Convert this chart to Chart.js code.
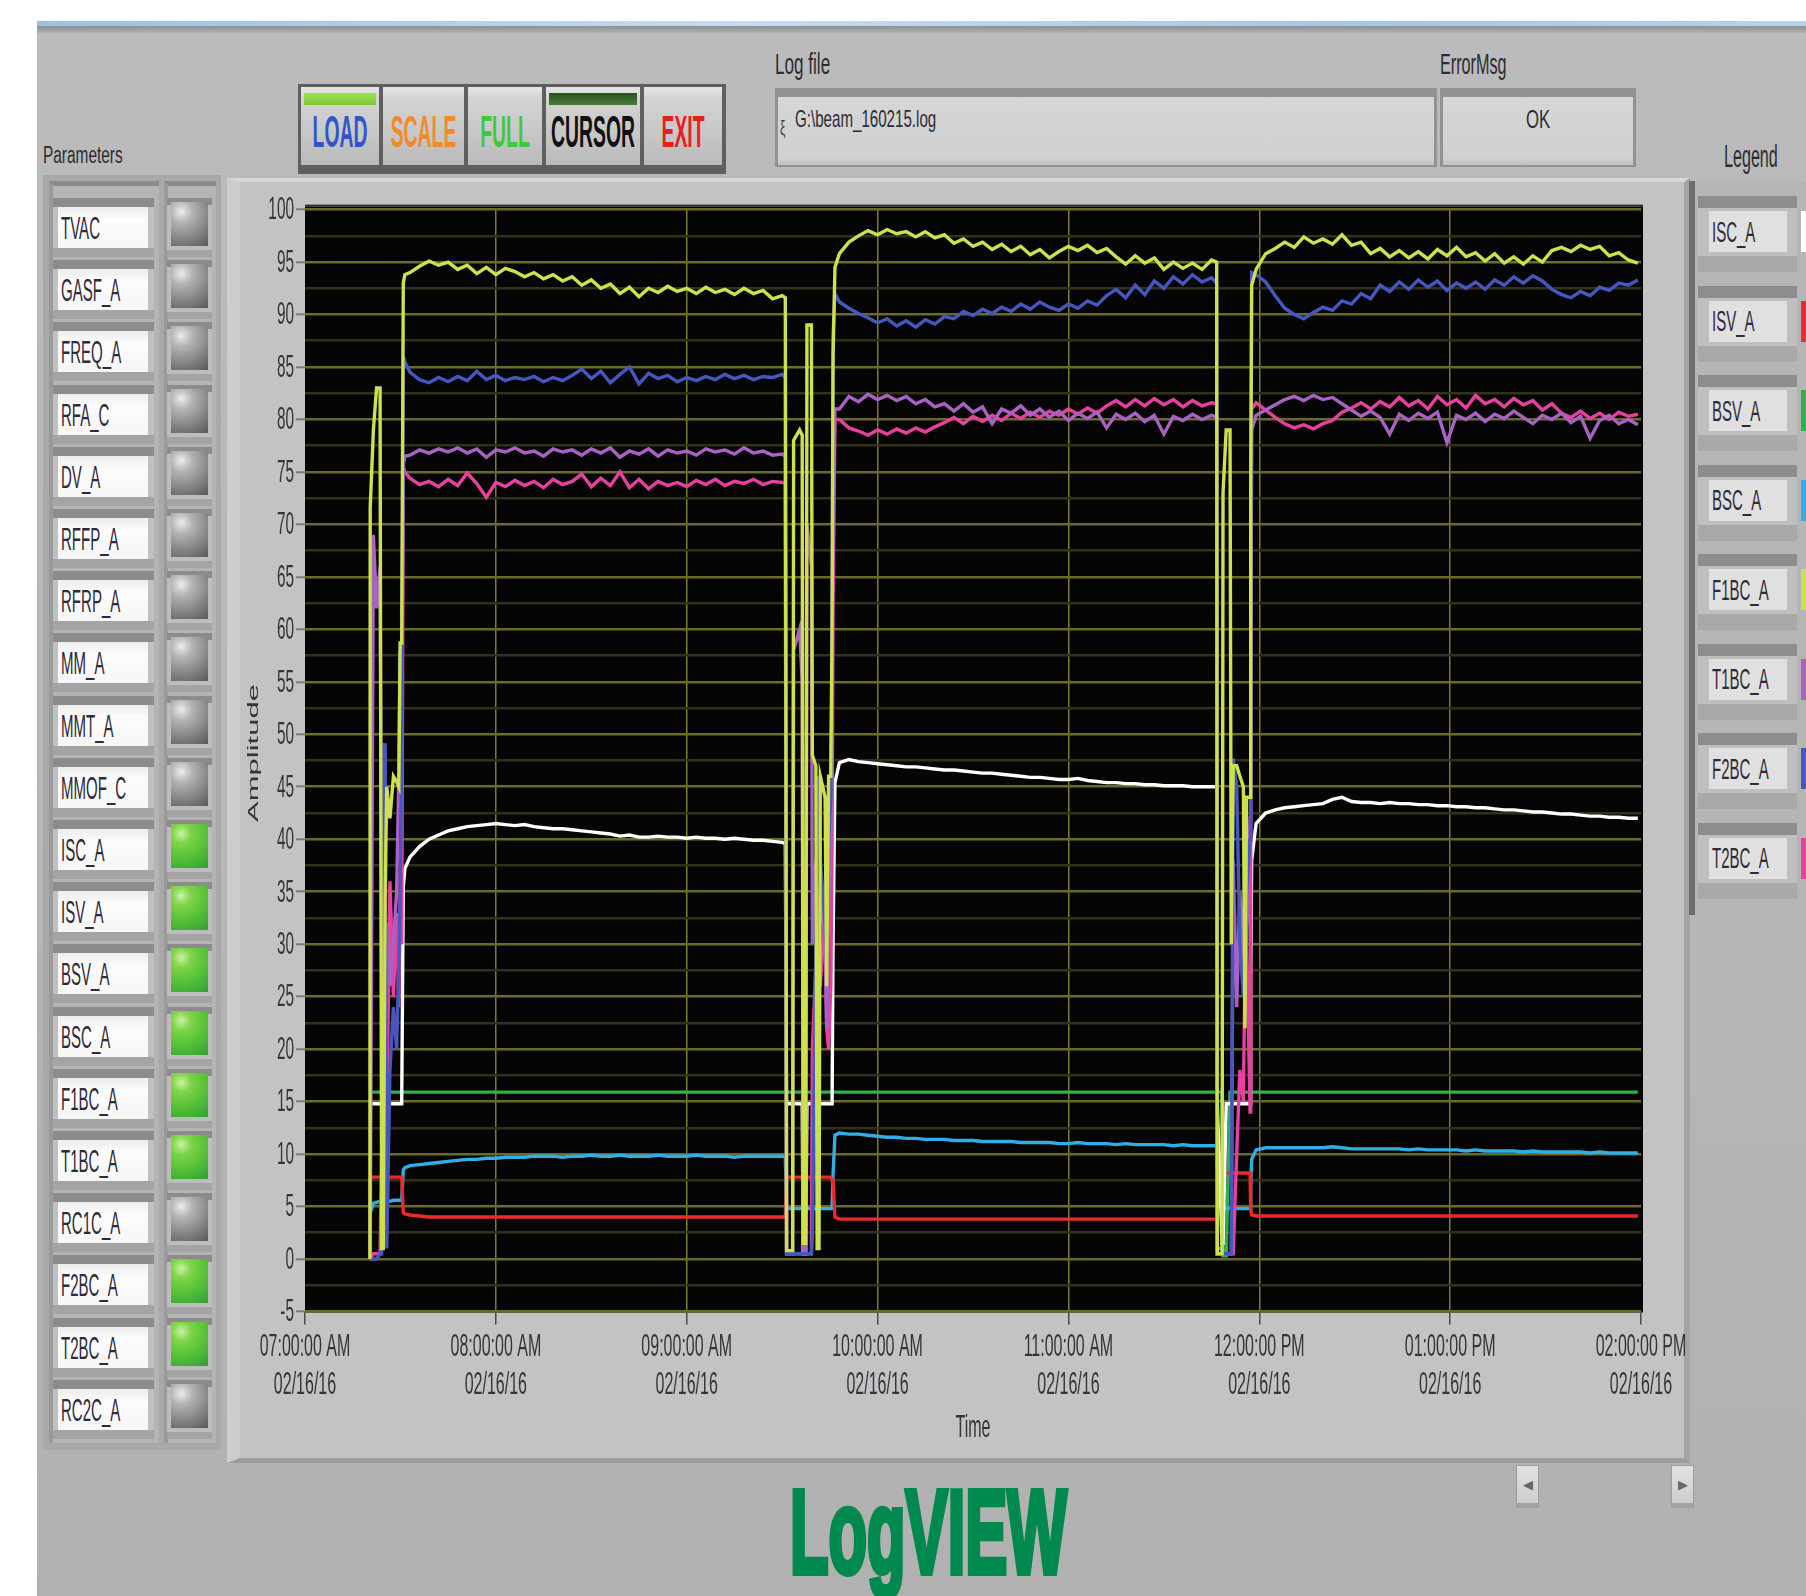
<!DOCTYPE html>
<html>
<head>
<meta charset="utf-8">
<title>LogVIEW</title>
<script src="https://cdn.jsdelivr.net/npm/chart.js@4.4.1/dist/chart.umd.min.js"></script>
<style>
  html, body { margin: 0; padding: 0; background: #fff; }
  body { position: relative; width: 1806px; height: 1596px; overflow: hidden; font-family: "Liberation Sans", Arial, sans-serif; }
  .box { position: absolute; box-sizing: border-box; }
  .t { position: absolute; white-space: nowrap; line-height: 1; transform-origin: 0 0; color: #2c2c34; }
  .btn { position: absolute; top: 87px; height: 78px; background: linear-gradient(#e6e6e6, #d4d4d4 14%, #c8c8c8 55%, #bababa); }
  .btn span { position: absolute; left: -80px; right: -80px; top: 22px; text-align: center; white-space: nowrap; font-weight: bold; font-size: 45px; line-height: 1; transform: scaleX(0.43); }
  .strip { position: absolute; left: 3px; right: 3px; top: 6px; height: 12px; }
  .scroll { position: absolute; top: 1465px; width: 23px; height: 43px; box-sizing: border-box; border: 1px solid #9c9c9c; border-bottom: 5px solid #a2a2a2; background: linear-gradient(#e2e2e2, #cdcdcd); color: #666; font-size: 13px; text-align: center; line-height: 37px; }
</style>
</head>
<body>
<div class="box" style="left:37px;top:21px;width:1769px;height:1575px;background:linear-gradient(#bbbbbb,#b6b6b6 55%,#b1b1b1);"></div>
<div class="box" style="left:37px;top:21px;width:1769px;height:5px;background:linear-gradient(90deg,#9dbfe3,#c7dbef 40%,#a7c5e6 75%,#b9d2ec);"></div>
<div class="box" style="left:37px;top:26px;width:1769px;height:7px;background:linear-gradient(#8f8f8f,#b0b0b0);"></div>

<div class="t" style="left:43px;top:144px;font-size:23px;transform:scaleX(0.67);">Parameters</div>
<div class="t" style="left:775px;top:49px;font-size:30px;transform:scaleX(0.57);">Log file</div>
<div class="t" style="left:1440px;top:49px;font-size:30px;transform:scaleX(0.54);">ErrorMsg</div>
<div class="t" style="left:1724px;top:141px;font-size:31px;transform:scaleX(0.52);">Legend</div>

<!-- button bar -->
<div class="box" style="left:298px;top:84px;width:428px;height:90px;background:#5f5f5f;"></div>
<div class="btn" style="left:301px;width:78px;"><div class="strip" style="background:linear-gradient(#9ee04a,#7cc83a);"></div><span style="color:#2f56c8;">LOAD</span></div>
<div class="btn" style="left:383px;width:81px;"><span style="color:#f28a2c;">SCALE</span></div>
<div class="btn" style="left:468px;width:74px;"><span style="color:#3ec83e;">FULL</span></div>
<div class="btn" style="left:546px;width:94px;"><div class="strip" style="background:linear-gradient(#2a5220,#4c7a3a);"></div><span style="color:#111;">CURSOR</span></div>
<div class="btn" style="left:644px;width:78px;"><span style="color:#ea1e1e;">EXIT</span></div>

<!-- log file / error boxes -->
<div class="box" style="left:775px;top:88px;width:662px;height:79px;background:#929292;"></div>
<div class="box" style="left:778px;top:97px;width:656px;height:68px;background:linear-gradient(#d6d6d6,#d0d0d0 90%,#c2c2c2);"></div>
<div class="t" style="left:780px;top:118px;font-size:20px;transform:scaleX(0.6);color:#444;">ξ</div>
<div class="t" style="left:795px;top:107px;font-size:24px;transform:scaleX(0.63);">G:\beam_160215.log</div>
<div class="box" style="left:1440px;top:88px;width:196px;height:79px;background:#929292;"></div>
<div class="box" style="left:1443px;top:97px;width:190px;height:68px;background:linear-gradient(#d6d6d6,#d0d0d0 90%,#c2c2c2);"></div>
<div class="t" style="left:1443px;width:190px;top:107px;font-size:25px;text-align:center;"><span style="display:inline-block;transform:scaleX(0.67);">OK</span></div>

<!-- parameter panel -->
<div class="box" style="left:43px;top:175px;width:178px;height:1275px;background:#a9a9a9;"></div>
<div class="box" style="left:49px;top:181px;width:110px;height:1262px;background:#b4b4b4;border-top:5px solid #8b8b8b;border-left:4px solid #9a9a9a;"></div>
<div class="box" style="left:164px;top:181px;width:52px;height:1262px;background:#b4b4b4;border-top:5px solid #8b8b8b;border-left:4px solid #9a9a9a;"></div>
<div id="params"></div>

<!-- graph panel -->
<div class="box" style="left:227px;top:178px;width:1463px;height:1285px;background:#c3c3c3;border-top:4px solid #d8d8d8;border-left:13px solid #cdcdcd;border-right:6px solid #a4a4a4;border-bottom:5px solid #9d9d9d;"></div>
<canvas id="plot" width="1468" height="1282" style="position:absolute;left:225px;top:178px;width:1468px;height:1282px;"></canvas>

<!-- legend panel -->
<div class="box" style="left:1689px;top:181px;width:117px;height:734px;background:#b5b5b5;border-left:6px solid #6d6d6d;"></div>
<div id="legend"></div>

<div class="scroll" style="left:1516px;">&#9664;</div>
<div class="scroll" style="left:1671px;">&#9654;</div>

<div class="t" style="left:790px;top:1472px;font-size:119px;font-weight:bold;color:#00894f;transform:scaleX(0.53);-webkit-text-stroke:6px #00894f;">LogVIEW</div>

<script>
// time axis in minutes after 07:00:00 AM
const minutes = [
  20.4, 20.5, 21.5, 22.5, 23.6, 24.1, 24.6, 25.2, 25.7, 26.7, 27.8, 28.8, 29.5, 29.9, 30.4, 30.9, 31.4,
  33, 36, 39, 42, 45, 48, 51, 54, 57, 60,
  63, 66, 69, 72, 75, 78, 81, 84, 87, 90,
  93, 96, 99, 102, 105, 108, 111, 114, 117, 120,
  123, 126, 129, 132, 135, 138, 141, 144, 147, 150,
  151.0, 151.4, 153.3, 153.6, 155.5, 156.3, 156.6, 157.4, 157.8, 159.2, 159.5, 160.6, 161.0, 161.6, 162.0, 163.5, 164.0, 164.6, 165.3, 165.7, 166.0, 166.6,
  168, 171, 174, 177, 180, 183, 186, 189, 192, 195,
  198, 201, 204, 207, 210, 213, 216, 219, 222, 225,
  228, 231, 234, 237, 240, 243, 246, 249, 252, 255,
  258, 261, 264, 267, 270, 273, 276, 279, 282, 285,
  286.6, 286.8, 288.3, 288.6, 289.6, 290.8, 291.2, 291.8, 292.9, 293.9, 295.0, 295.5, 296.0, 297.1, 297.3, 297.6,
  299, 302, 305, 308, 311, 314, 317, 320, 323, 326,
  329, 332, 335, 338, 341, 344, 347, 350, 353, 356,
  359, 362, 365, 368, 371, 374, 377, 380, 383, 386,
  389, 392, 395, 398, 401, 404, 407, 410, 413, 416,
  419
];

const f1bcA = [
  0, 71.6, 79, 83, 83, 1, 1, 35, 45, 42, 46, 45.5, 45, 58.7, 58.7, 93, 93.8,
  94.0, 94.6, 95.1, 94.7, 95.0, 94.3, 94.7, 93.9, 94.5, 93.8,
  94.4, 94.1, 93.6, 94.0, 93.4, 93.8, 93.2, 93.6, 92.8, 93.3,
  92.5, 92.9, 92.0, 92.6, 91.7, 92.5, 92.1, 92.7, 92.2, 92.5,
  92.0, 92.6, 92.1, 92.4, 91.9, 92.5, 92.0, 92.3, 91.5, 91.8,
  91.6, 0.8, 0.8, 78, 79, 78.5, 1.5, 1.5, 89, 89, 48, 47, 1.0, 1.0, 46, 44, 26, 46, 46, 60, 86, 94.5,
  95.8, 96.9, 97.5, 98.0, 97.6, 98.1, 97.7, 97.9, 97.4, 97.9,
  97.3, 97.6, 96.8, 97.2, 96.5, 96.9, 96.2, 96.7, 96.0, 96.5,
  95.7, 96.2, 95.4, 96.0, 96.5, 96.1, 96.6, 95.9, 96.3, 95.5,
  94.8, 95.6, 94.9, 95.4, 94.3, 95.0, 94.4, 94.9, 94.3, 95.2,
  95.0, 0.5, 0.5, 73, 79, 79, 30, 47, 47, 46, 45, 22, 44, 44, 73.7, 92.8,
  94.3, 95.8, 96.3, 96.9, 96.4, 97.4, 96.8, 97.2, 96.7, 97.6,
  96.6, 96.9, 95.8, 96.3, 95.5, 96.1, 95.4, 96.0, 95.3, 96.2,
  95.6, 96.4, 95.5, 95.9, 95.1, 95.8, 94.9, 95.5, 94.8, 95.6,
  95.0, 96.1, 96.4, 96.0, 96.6, 96.2, 96.5, 95.6, 95.9, 95.2,
  94.9
];

const f2bcA = [
  0, 0, 0, 0, 0.5, 0.5, 49, 49, 1, 18, 24, 20, 28, 34, 48, 86, 85.5,
  84.5, 83.8, 83.5, 84.0, 83.6, 84.1, 83.7, 84.6, 83.8, 84.2,
  83.7, 84.0, 83.8, 84.1, 83.6, 84.0, 83.7, 84.2, 84.8, 83.9,
  84.6, 83.5, 84.3, 85.0, 83.4, 84.4, 83.9, 84.2, 83.6, 84.0,
  83.7, 84.1, 83.8, 84.3, 83.9, 84.2, 83.8, 84.1, 84.0, 84.3,
  84.0, 0.5, 0.5, 0.5, 0.5, 0.5, 0.5, 0.5, 0.5, 0.5, 2, 30, 46, 45, 38, 32, 28, 40, 44, 60, 88, 92,
  91.2, 90.6, 90.1, 89.7, 89.2, 89.6, 88.9, 89.4, 88.8, 89.5,
  89.1, 89.8, 89.6, 90.3, 89.9, 90.5, 90.1, 90.7, 90.3, 91.0,
  90.5, 91.2, 90.7, 90.4, 91.0, 90.6, 91.3, 90.9, 91.8, 92.4,
  91.6, 92.8, 91.9, 93.2, 92.5, 93.6, 92.9, 93.8, 93.1, 93.5,
  93.0, 0.5, 0.5, 0.5, 0.5, 0.5, 0.5, 47.7, 45, 30, 25, 28, 35, 40, 60, 94,
  93.8, 93.1, 91.8, 90.6, 90.0, 89.6, 90.2, 90.7, 90.4, 91.3,
  91.0, 92.0, 91.5, 92.8, 92.2, 93.1, 92.4, 93.3, 92.6, 93.2,
  92.3, 93.0, 92.5, 93.1, 92.4, 93.3, 92.8, 93.6, 93.0, 93.7,
  93.2, 92.4, 91.9, 91.6, 92.2, 91.8, 92.6, 92.3, 93.0, 92.8,
  93.3
];

const t1bcA = [
  0, 0, 69, 62, 66, 30, 37, 24, 32, 26, 30, 35, 46, 58, 52, 75.7, 76.5,
  76.6, 77.1, 76.8, 77.2, 76.9, 77.3, 76.8, 77.2, 76.4, 77.1,
  76.9, 77.3, 76.8, 77.0, 76.5, 77.2, 76.9, 77.1, 76.6, 77.2,
  76.8, 77.3, 76.4, 77.0, 76.7, 77.2, 76.5, 77.1, 76.8, 77.0,
  76.6, 77.2, 76.9, 77.1, 76.7, 77.3, 76.8, 77.0, 76.6, 76.7,
  76.5, 0.5, 0.5, 58, 60, 55, 0.5, 0.5, 70, 66, 30, 38, 20, 25, 36, 30, 22, 33, 40, 58, 72, 81,
  81.0, 82.2, 81.7, 82.4, 81.9, 82.3, 81.8, 82.2, 81.5, 81.9,
  81.2, 81.5, 80.8, 81.5, 80.7, 81.2, 79.6, 81.0, 80.6, 81.3,
  80.4, 81.0, 80.2, 80.8, 79.9, 80.6, 80.1, 80.7, 79.2, 80.5,
  80.0, 80.6, 79.8, 80.4, 78.6, 80.3, 79.9, 80.5, 80.0, 80.4,
  80.2, 0.5, 0.5, 0.5, 0.5, 0.5, 0.5, 38, 24, 35, 28, 39, 30, 42, 60, 79,
  80.4, 80.9, 81.4, 81.9, 82.2, 81.8, 82.3, 81.9, 82.1, 81.5,
  80.9, 80.3, 80.8, 80.2, 78.6, 80.5, 79.9, 80.6, 80.1, 80.7,
  77.8, 80.4, 80.0, 80.6, 79.8, 80.5, 80.1, 80.8, 80.2, 79.6,
  80.4, 80.0, 80.6, 79.7, 80.3, 78.2, 79.9, 80.4, 79.6, 80.0,
  79.5
];

const t2bcA = [
  0, 0, 0.5, 0.5, 0.5, 10, 14, 9.5, 13, 36, 25, 33, 24, 37, 30, 75.5, 75.0,
  74.4, 73.8, 74.1, 73.6, 74.3, 73.7, 74.9, 73.9, 72.6, 74.0,
  73.6, 74.2, 73.7, 74.1, 73.5, 74.3, 73.8, 74.1, 74.8, 73.6,
  74.4, 73.7, 75.0, 73.5, 74.3, 73.4, 74.1, 73.7, 74.0, 73.6,
  74.2, 73.8, 74.3, 73.7, 74.1, 73.9, 74.3, 73.8, 74.1, 74.0,
  74.0, 0.5, 0.5, 0.5, 0.5, 0.5, 0.5, 0.5, 0.5, 0.5, 20, 28, 22, 30, 26, 33, 22, 20, 26, 40, 62, 80,
  80.0, 79.2, 78.9, 78.5, 79.0, 78.6, 79.1, 78.7, 79.2, 78.8,
  79.3, 79.7, 80.2, 79.6, 80.3, 79.8, 80.4, 79.9, 80.6, 80.1,
  80.7, 80.2, 80.8, 80.4, 81.0, 80.5, 81.1, 80.6, 81.3, 81.8,
  81.2, 81.9, 81.3, 82.0, 81.4, 81.9, 81.2, 81.8, 81.3, 81.6,
  81.5, 0.5, 0.5, 0.5, 0.5, 0.5, 0.5, 0.5, 10, 18, 15, 28, 31, 14, 45, 81,
  81.6, 80.9, 80.2, 79.6, 79.2, 79.5, 79.1, 79.6, 79.9, 80.7,
  81.1, 81.6, 81.0, 81.7, 81.2, 82.1, 81.3, 81.8, 81.0, 82.2,
  81.4, 81.9, 81.1, 82.3, 81.5, 81.9, 81.2, 82.0, 81.4, 81.8,
  80.9, 81.5, 80.6, 80.2, 80.8, 80.1, 80.6, 80.0, 80.7, 80.3,
  80.5
];

const iscA = [
  14.8, 14.8, 14.8, 14.8, 14.8, 14.8, 14.8, 14.8, 14.8, 14.8, 14.8, 14.8, 14.8, 14.8, 14.8, 35.5, 37.2,
  38.3, 39.3, 40.0, 40.4, 40.8, 41.0, 41.2, 41.3, 41.4, 41.5,
  41.4, 41.3, 41.4, 41.2, 41.1, 41.0, 41.0, 40.9, 40.8, 40.7,
  40.6, 40.5, 40.3, 40.4, 40.2, 40.2, 40.3, 40.2, 40.2, 40.1,
  40.2, 40.1, 40.1, 40.0, 40.1, 40.0, 39.9, 39.9, 39.8, 39.7,
  39.6, 14.8, 14.8, 14.8, 14.8, 14.8, 0.5, 0.5, 14.8, 14.8, 14.8, 14.8, 14.8, 14.8, 14.8, 14.8, 14.8, 14.8, 14.8, 14.8, 30, 45.4,
  47.3, 47.6, 47.4, 47.3, 47.2, 47.1, 47.0, 46.9, 46.9, 46.8,
  46.7, 46.6, 46.6, 46.5, 46.4, 46.3, 46.3, 46.2, 46.1, 46.0,
  45.9, 45.9, 45.8, 45.7, 45.7, 45.8, 45.6, 45.5, 45.4, 45.4,
  45.3, 45.3, 45.2, 45.2, 45.1, 45.1, 45.1, 45.0, 45.0, 45.0,
  45.0, 14.8, 1.5, 1.5, 14.8, 14.8, 14.8, 14.8, 14.8, 14.8, 14.8, 14.8, 14.8, 14.8, 26, 38,
  41.5, 42.5, 42.8, 43.0, 43.1, 43.2, 43.3, 43.4, 43.8, 44.0,
  43.6, 43.5, 43.5, 43.4, 43.5, 43.4, 43.4, 43.3, 43.3, 43.2,
  43.2, 43.1, 43.1, 43.0, 43.0, 42.9, 42.8, 42.8, 42.7, 42.6,
  42.6, 42.5, 42.4, 42.4, 42.3, 42.2, 42.2, 42.1, 42.1, 42.0,
  42.0
];

const isvA = [
  7.8, 7.8, 7.8, 7.8, 7.8, 7.8, 7.8, 7.8, 7.8, 7.8, 7.8, 7.8, 7.8, 7.8, 7.8, 4.4, 4.3,
  4.2, 4.1, 4.0, 4.0, 4.0, 4.0, 4.0, 4.0, 4.0, 4.0,
  4.0, 4.0, 4.0, 4.0, 4.0, 4.0, 4.0, 4.0, 4.0, 4.0,
  4.0, 4.0, 4.0, 4.0, 4.0, 4.0, 4.0, 4.0, 4.0, 4.0,
  4.0, 4.0, 4.0, 4.0, 4.0, 4.0, 4.0, 4.0, 4.0, 4.0,
  4.0, 7.8, 7.8, 7.8, 7.8, 7.8, 7.8, 7.8, 7.8, 7.8, 7.8, 7.8, 7.8, 7.8, 7.8, 7.8, 7.8, 7.8, 7.8, 7.5, 7.5, 4.0,
  3.8, 3.8, 3.8, 3.8, 3.8, 3.8, 3.8, 3.8, 3.8, 3.8,
  3.8, 3.8, 3.8, 3.8, 3.8, 3.8, 3.8, 3.8, 3.8, 3.8,
  3.8, 3.8, 3.8, 3.8, 3.8, 3.8, 3.8, 3.8, 3.8, 3.8,
  3.8, 3.8, 3.8, 3.8, 3.8, 3.8, 3.8, 3.8, 3.8, 3.8,
  3.8, 8.2, 8.2, 8.2, 8.2, 8.2, 8.2, 8.2, 8.2, 8.2, 8.2, 8.2, 8.2, 8.2, 4.8, 4.2,
  4.1, 4.1, 4.1, 4.1, 4.1, 4.1, 4.1, 4.1, 4.1, 4.1,
  4.1, 4.1, 4.1, 4.1, 4.1, 4.1, 4.1, 4.1, 4.1, 4.1,
  4.1, 4.1, 4.1, 4.1, 4.1, 4.1, 4.1, 4.1, 4.1, 4.1,
  4.1, 4.1, 4.1, 4.1, 4.1, 4.1, 4.1, 4.1, 4.1, 4.1,
  4.1
];

const bsvA = [
  15.9, 15.9, 15.9, 15.9, 15.9, 15.9, 15.9, 15.9, 15.9, 15.9, 15.9, 15.9, 15.9, 15.9, 15.9, 15.9, 15.9,
  15.9, 15.9, 15.9, 15.9, 15.9, 15.9, 15.9, 15.9, 15.9, 15.9,
  15.9, 15.9, 15.9, 15.9, 15.9, 15.9, 15.9, 15.9, 15.9, 15.9,
  15.9, 15.9, 15.9, 15.9, 15.9, 15.9, 15.9, 15.9, 15.9, 15.9,
  15.9, 15.9, 15.9, 15.9, 15.9, 15.9, 15.9, 15.9, 15.9, 15.9,
  15.9, 15.9, 15.9, 15.9, 15.9, 15.9, 15.9, 15.9, 15.9, 15.9, 15.9, 15.9, 15.9, 15.9, 15.9, 15.9, 15.9, 15.9, 15.9, 15.9, 15.9, 15.9,
  15.9, 15.9, 15.9, 15.9, 15.9, 15.9, 15.9, 15.9, 15.9, 15.9,
  15.9, 15.9, 15.9, 15.9, 15.9, 15.9, 15.9, 15.9, 15.9, 15.9,
  15.9, 15.9, 15.9, 15.9, 15.9, 15.9, 15.9, 15.9, 15.9, 15.9,
  15.9, 15.9, 15.9, 15.9, 15.9, 15.9, 15.9, 15.9, 15.9, 15.9,
  15.9, 15.9, 15.9, 0.3, 0.3, 15.9, 15.9, 15.9, 15.9, 15.9, 15.9, 15.9, 15.9, 15.9, 15.9, 15.9,
  15.9, 15.9, 15.9, 15.9, 15.9, 15.9, 15.9, 15.9, 15.9, 15.9,
  15.9, 15.9, 15.9, 15.9, 15.9, 15.9, 15.9, 15.9, 15.9, 15.9,
  15.9, 15.9, 15.9, 15.9, 15.9, 15.9, 15.9, 15.9, 15.9, 15.9,
  15.9, 15.9, 15.9, 15.9, 15.9, 15.9, 15.9, 15.9, 15.9, 15.9,
  15.9
];

const bscA = [
  4.4, 4.4, 5.3, 5.4, 5.5, 5.5, 5.5, 5.5, 5.5, 5.5, 5.6, 5.6, 5.6, 5.6, 5.6, 8.5, 8.7,
  8.9, 9.0, 9.1, 9.2, 9.3, 9.4, 9.5, 9.5, 9.6, 9.6,
  9.7, 9.7, 9.7, 9.8, 9.8, 9.8, 9.7, 9.8, 9.8, 9.9,
  9.8, 9.8, 9.9, 9.8, 9.8, 9.8, 9.9, 9.8, 9.8, 9.8,
  9.9, 9.8, 9.8, 9.8, 9.7, 9.8, 9.8, 9.8, 9.8, 9.8,
  9.8, 4.8, 4.8, 4.8, 4.8, 4.8, 4.8, 4.8, 4.8, 4.8, 4.8, 4.8, 4.8, 4.8, 4.8, 4.8, 4.8, 4.8, 4.8, 4.8, 8.0, 11.8,
  12.0, 11.9, 11.9, 11.8, 11.7, 11.6, 11.6, 11.5, 11.5, 11.4,
  11.4, 11.4, 11.3, 11.3, 11.3, 11.2, 11.2, 11.2, 11.2, 11.1,
  11.1, 11.1, 11.1, 11.0, 11.0, 11.1, 11.0, 11.0, 11.0, 10.9,
  11.0, 10.9, 10.9, 10.9, 10.9, 10.8, 10.9, 10.8, 10.8, 10.8,
  10.8, 1.0, 1.0, 4.8, 4.8, 4.8, 4.8, 4.8, 4.8, 4.8, 4.8, 4.8, 4.8, 4.8, 7.0, 9.5,
  10.4, 10.6, 10.6, 10.6, 10.6, 10.6, 10.6, 10.6, 10.7, 10.6,
  10.5, 10.5, 10.5, 10.5, 10.5, 10.5, 10.4, 10.5, 10.4, 10.4,
  10.4, 10.4, 10.3, 10.4, 10.3, 10.3, 10.3, 10.3, 10.2, 10.3,
  10.2, 10.2, 10.2, 10.2, 10.2, 10.1, 10.2, 10.1, 10.1, 10.1,
  10.1
];

const hourTicks = [0, 60, 120, 180, 240, 300, 360, 420];
const hourLabels = ['07:00:00 AM', '08:00:00 AM', '09:00:00 AM', '10:00:00 AM', '11:00:00 AM', '12:00:00 PM', '01:00:00 PM', '02:00:00 PM'];
const dateLabel = '02/16/16';
const yGridValues = [-5, -2.5, 0, 2.5, 5, 7.5, 10, 12.5, 15, 17.5, 20, 22.5, 25, 27.5, 30, 32.5, 35, 37.5, 40, 42.5,
  45, 47.5, 50, 52.5, 55, 57.5, 60, 62.5, 65, 67.5, 70, 72.5, 75, 77.5, 80, 82.5, 85, 87.5, 90, 92.5, 95, 97.5, 100];

const paramNames = ['TVAC', 'GASF_A', 'FREQ_A', 'RFA_C', 'DV_A', 'RFFP_A', 'RFRP_A', 'MM_A', 'MMT_A', 'MMOF_C',
  'ISC_A', 'ISV_A', 'BSV_A', 'BSC_A', 'F1BC_A', 'T1BC_A', 'RC1C_A', 'F2BC_A', 'T2BC_A', 'RC2C_A'];
const paramOn = [0, 0, 0, 0, 0, 0, 0, 0, 0, 0, 1, 1, 1, 1, 1, 1, 0, 1, 1, 0];

// drawn first = on top
const series = [
  { name: 'F1BC_A', values: f1bcA, color: '#cde04e' },
  { name: 'F2BC_A', values: f2bcA, color: '#4658c0' },
  { name: 'T1BC_A', values: t1bcA, color: '#a862c4' },
  { name: 'T2BC_A', values: t2bcA, color: '#e8409e' },
  { name: 'ISC_A', values: iscA, color: '#ffffff' },
  { name: 'ISV_A', values: isvA, color: '#ec2a2a' },
  { name: 'BSC_A', values: bscA, color: '#30aee6' },
  { name: 'BSV_A', values: bsvA, color: '#2cb24a' }
];
const legendNames = ['ISC_A', 'ISV_A', 'BSV_A', 'BSC_A', 'F1BC_A', 'T1BC_A', 'F2BC_A', 'T2BC_A'];

// side panels
const params = document.getElementById('params');
paramNames.forEach((name, i) => {
  const top = 207 + 62.2 * i;
  const led = paramOn[i]
    ? 'radial-gradient(circle at 28% 22%, #cdf2a6 0, #7fd44a 22%, #58c238 55%, #2f9e36 100%)'
    : 'radial-gradient(circle at 28% 22%, #ececec 0, #b4b4b4 25%, #7c7c7c 70%, #585858 100%)';
  params.insertAdjacentHTML('beforeend',
    `<div class="box" style="left:53px;top:${top - 9}px;width:101px;height:59px;background:linear-gradient(#8c8c8c 0 9px,#c0c0c0 9px 50px,#a4a4a4 50px);"></div>` +
    `<div class="box" style="left:58px;top:${top}px;width:90px;height:41px;background:linear-gradient(#ececec,#fcfcfc 30%,#f6f6f6);"></div>` +
    `<div class="t" style="left:61px;top:${top + 4.9}px;font-size:32px;transform:scaleX(0.47);color:#2e2a38;">${name}</div>` +
    `<div class="box" style="left:167px;top:${top - 9}px;width:45px;height:59px;background:linear-gradient(#8c8c8c 0 7px,#bdbdbd 7px 52px,#a4a4a4 52px);"></div>` +
    `<div class="box" style="left:171px;top:${top - 5}px;width:37px;height:44px;background:${led};"></div>`);
});

const legend = document.getElementById('legend');
legendNames.forEach((name, i) => {
  const top = 211 + 89.5 * i;
  const s = series.find(d => d.name === name);
  legend.insertAdjacentHTML('beforeend',
    `<div class="box" style="left:1698px;top:${top - 15}px;width:99px;height:76px;background:linear-gradient(#8d8d8d 0 12px,#bfbfbf 12px 60px,#a9a9a9 60px);"></div>` +
    `<div class="box" style="left:1709px;top:${top}px;width:78px;height:41px;background:#e0e0e0;"></div>` +
    `<div class="t" style="left:1712px;top:${top + 5.9}px;font-size:30px;transform:scaleX(0.5);color:#2e2a38;">${name}</div>` +
    `<div class="box" style="left:1801px;top:${top}px;width:5px;height:41px;background:${s.color};"></div>`);
});

// chart helpers
const plotBackground = {
  id: 'plotBackground',
  beforeDraw(chart) {
    const { ctx, chartArea: a } = chart;
    ctx.save();
    ctx.fillStyle = '#2c2c2c';
    ctx.fillRect(a.left, a.top - 5, a.right - a.left + 2, 2);
    ctx.fillStyle = '#050505';
    ctx.fillRect(a.left, a.top - 3, a.right - a.left + 2, a.bottom - a.top + 4);
    ctx.restore();
  }
};

const squeezedText = {
  id: 'squeezedText',
  afterDraw(chart) {
    const { ctx, chartArea: a, scales: { x, y } } = chart;
    ctx.save();
    ctx.fillStyle = '#34343c';
    ctx.font = '32px "Liberation Sans", Arial, sans-serif';
    ctx.textBaseline = 'middle';
    ctx.textAlign = 'right';
    y.ticks.forEach(t => {
      if (t.value % 5 !== 0) return;
      ctx.save();
      ctx.translate(a.left - 11, y.getPixelForValue(t.value) + 1);
      ctx.scale(0.48, 1);
      ctx.fillText(String(t.value), 0, 0);
      ctx.restore();
    });
    ctx.textAlign = 'center';
    x.ticks.forEach((t, i) => {
      ctx.save();
      ctx.translate(x.getPixelForValue(t.value), a.bottom + 36);
      ctx.scale(0.5, 1);
      ctx.fillText(hourLabels[i], 0, 0);
      ctx.fillText(dateLabel, 0, 37.5);
      ctx.restore();
    });
    ctx.save();
    ctx.translate((a.left + a.right) / 2, a.bottom + 116.5);
    ctx.scale(0.5, 1);
    ctx.fillText('Time', 0, 0);
    ctx.restore();
    ctx.save();
    ctx.translate(29, 575);
    ctx.scale(0.5, 1);
    ctx.rotate(-Math.PI / 2);
    ctx.font = '31px "Liberation Sans", Arial, sans-serif';
    ctx.fillText('Amplitude', 0, 0);
    ctx.restore();
    ctx.restore();
  }
};

new Chart(document.getElementById('plot'), {
  type: 'line',
  data: {
    datasets: series.map(s => ({
      label: s.name,
      data: minutes.map((m, i) => ({ x: m, y: s.values[i] })),
      borderColor: s.color,
      borderWidth: 3.4,
      pointRadius: 0,
      tension: 0,
      fill: false
    }))
  },
  options: {
    responsive: false,
    animation: false,
    layout: { padding: { left: 0, top: 31.6, right: 52, bottom: 0 } },
    plugins: { legend: { display: false }, tooltip: { enabled: false } },
    scales: {
      x: {
        type: 'linear',
        min: 0,
        max: 420,
        afterBuildTicks: ax => { ax.ticks = hourTicks.map(v => ({ value: v })); },
        afterFit: ax => { ax.height = 148.5; },
        ticks: { display: false },
        border: { display: false },
        grid: {
          color: c => (c.tick && (c.tick.value === 0 || c.tick.value === 420)) ? 'rgba(0,0,0,0)' : '#7c7c2e',
          lineWidth: 1.5,
          tickLength: 13,
          tickColor: '#4a4a4a',
          tickWidth: 1.5
        }
      },
      y: {
        min: -5,
        max: 100,
        afterBuildTicks: ax => { ax.ticks = yGridValues.map(v => ({ value: v })); },
        afterFit: ax => { ax.width = 80; },
        ticks: { display: false },
        border: { display: false },
        grid: {
          color: c => (c.tick && c.tick.value % 5 === 0) ? '#6a6a2a' : '#32321a',
          lineWidth: 2.6,
          tickLength: 9,
          tickColor: c => (c.tick && c.tick.value % 5 === 0) ? '#7a7a7a' : 'rgba(0,0,0,0)',
          tickWidth: 2
        }
      }
    }
  },
  plugins: [plotBackground, squeezedText]
});
</script>
</body>
</html>
